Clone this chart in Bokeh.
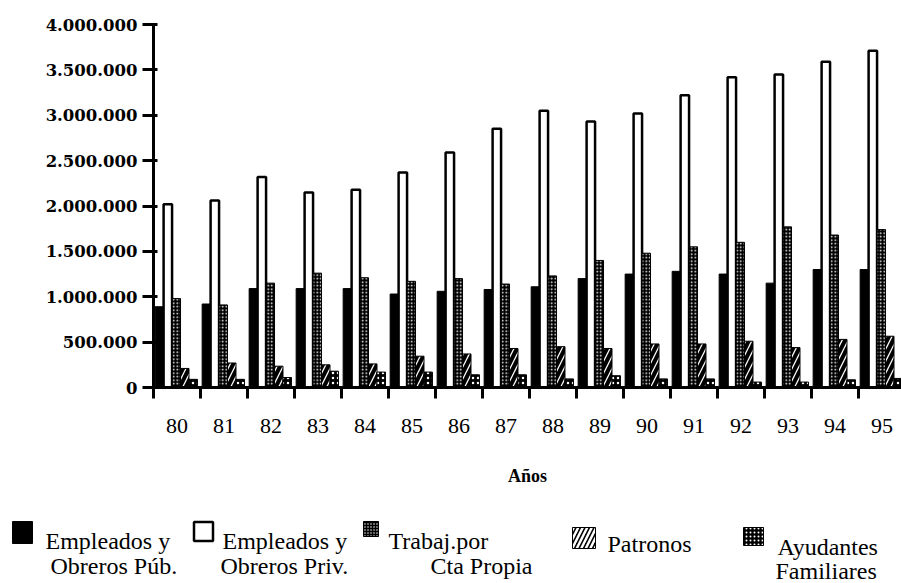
from bokeh.plotting import figure
from bokeh.models import ColumnDataSource, Range1d, FixedTicker, Label
from bokeh.layouts import column
from bokeh.transform import dodge
from bokeh.embed import file_html
from bokeh.resources import INLINE

years = ["80", "81", "82", "83", "84", "85", "86", "87", "88", "89", "90", "91", "92", "93", "94", "95"]
pub = [890000, 920000, 1090000, 1090000, 1090000, 1030000, 1060000, 1080000, 1110000, 1200000, 1250000, 1280000, 1250000, 1150000, 1300000, 1300000]
priv = [2020000, 2060000, 2320000, 2150000, 2180000, 2370000, 2590000, 2850000, 3050000, 2930000, 3020000, 3220000, 3420000, 3450000, 3590000, 3710000]
trab = [980000, 910000, 1150000, 1260000, 1210000, 1170000, 1200000, 1140000, 1230000, 1400000, 1480000, 1550000, 1600000, 1770000, 1680000, 1740000]
pat = [210000, 270000, 235000, 250000, 260000, 345000, 370000, 430000, 450000, 430000, 480000, 480000, 510000, 440000, 530000, 565000]
ayud = [90000, 90000, 110000, 180000, 170000, 170000, 140000, 140000, 95000, 130000, 95000, 95000, 60000, 60000, 85000, 100000]

y_ticks = [0, 500000, 1000000, 1500000, 2000000, 2500000, 3000000, 3500000, 4000000]
y_labels = ["0", "500.000", "1.000.000", "1.500.000", "2.000.000", "2.500.000", "3.000.000", "3.500.000", "4.000.000"]
x_title = "Años"

legend_lines = [
    ["Empleados y", "Obreros Púb."],
    ["Empleados y", "Obreros Priv."],
    ["Trabaj.por", "Cta Propia"],
    ["Patronos"],
    ["Ayudantes", "Familiares"],
]

pos = list(range(len(years)))
src = ColumnDataSource(dict(x=pos, pub=pub, priv=priv, trab=trab, pat=pat, ayud=ayud))

CAT_PX = 47.0
FRAME_LEFT = 153
W = 901
H_MAIN = 498
frame_w = W - FRAME_LEFT
x_end = frame_w / CAT_PX

p = figure(width=W, height=H_MAIN, output_backend="svg", toolbar_location=None,
           x_range=Range1d(0, x_end), y_range=Range1d(0, 4000000),
           min_border_left=FRAME_LEFT, min_border_right=0, min_border_top=24,
           min_border_bottom=H_MAIN - 24 - 363)
p.frame_align = False
p.outline_line_color = None
p.grid.visible = False
p.background_fill_color = "white"
p.border_fill_color = "white"

bw = 0.18
offs = [0.125, 0.305, 0.485, 0.665, 0.845]

p.vbar(x=dodge("x", offs[0], range=p.x_range), top="pub", width=bw, source=src,
       fill_color="black", line_color="black", line_width=1)
p.vbar(x=dodge("x", offs[1], range=p.x_range), top="priv", width=bw, source=src,
       fill_color="white", line_color="black", line_width=2.5)
p.vbar(x=dodge("x", offs[2], range=p.x_range), top="trab", width=bw, source=src,
       fill_color="black", line_color="black", line_width=1,
       hatch_pattern="dot", hatch_color="white", hatch_scale=3.5, hatch_weight=1)
p.vbar(x=dodge("x", offs[3], range=p.x_range), top="pat", width=bw, source=src,
       fill_color="black", line_color="black", line_width=1,
       hatch_pattern="right_diagonal_line", hatch_color="white", hatch_scale=12, hatch_weight=1.3)
p.vbar(x=dodge("x", offs[4], range=p.x_range), top="ayud", width=bw, source=src,
       fill_color="black", line_color="black", line_width=1,
       hatch_pattern="dot", hatch_color="white", hatch_scale=5, hatch_weight=1.8)

# y axis
ya = p.yaxis[0]
ya.ticker = FixedTicker(ticks=y_ticks, minor_ticks=[])
ya.major_label_overrides = {t: l for t, l in zip(y_ticks, y_labels)}
ya.axis_line_width = 3
ya.major_tick_line_width = 3
ya.major_tick_out = 11
ya.major_tick_in = 4
ya.major_label_standoff = 5
ya.major_label_text_font = "DejaVu Serif"
ya.major_label_text_font_style = "bold"
ya.major_label_text_font_size = "16.5px"
ya.major_label_text_color = "black"

# x axis
xa = p.xaxis[0]
xa.ticker = FixedTicker(ticks=[i + 0.5 for i in pos], minor_ticks=list(range(len(years) + 1)))
xa.major_label_overrides = {i + 0.5: y for i, y in zip(pos, years)}
xa.axis_line_width = 3
xa.major_tick_out = 0
xa.major_tick_in = 0
xa.minor_tick_line_width = 3
xa.minor_tick_out = 11
xa.minor_tick_in = 0
xa.minor_tick_line_color = "black"
xa.major_label_standoff = 20
xa.major_label_text_font = "Liberation Serif"
xa.major_label_text_font_size = "22px"
xa.major_label_text_color = "black"
xa.axis_label = x_title
xa.axis_label_standoff = 30
xa.axis_label_text_font = "Liberation Serif"
xa.axis_label_text_font_style = "bold"
xa.axis_label_text_font_size = "18px"
xa.axis_label_text_color = "black"

# legend figure (page coordinates)
LH = 583 - H_MAIN
lg = figure(width=W, height=LH, output_backend="svg", toolbar_location=None,
            x_range=Range1d(0, W), y_range=Range1d(H_MAIN + LH, H_MAIN),
            min_border=0)
lg.frame_align = False
lg.axis.visible = False
lg.grid.visible = False
lg.outline_line_color = None

sw_x = [22, 203, 370.5, 583.5, 753]
sw_y = [532, 531, 528.5, 537.5, 536]
sw_w = [20, 19, 15, 23, 20]
sw_h = [22, 19, 15, 21, 18]
lg.rect(x=[sw_x[0]], y=[sw_y[0]], width=[sw_w[0]], height=[sw_h[0]], fill_color="black", line_color="black")
lg.rect(x=[sw_x[1]], y=[sw_y[1]], width=[sw_w[1]], height=[sw_h[1]], fill_color="white", line_color="black", line_width=2.5)
lg.rect(x=[sw_x[2]], y=[sw_y[2]], width=[sw_w[2]], height=[sw_h[2]], fill_color="black", line_color="black",
        hatch_pattern="dot", hatch_color="white", hatch_scale=3, hatch_weight=1)
lg.rect(x=[sw_x[3]], y=[sw_y[3]], width=[sw_w[3]], height=[sw_h[3]], fill_color="black", line_color="black",
        hatch_pattern="right_diagonal_line", hatch_color="white", hatch_scale=9, hatch_weight=2.5)
lg.rect(x=[sw_x[4]], y=[sw_y[4]], width=[sw_w[4]], height=[sw_h[4]], fill_color="black", line_color="black",
        hatch_pattern="dot", hatch_color="white", hatch_scale=4, hatch_weight=1.6)

tx = [[45, 50], [222, 220], [388, 430], [607], [777, 775]]
ty = [[540, 565], [540, 565], [540, 565], [543], [546, 570]]
for lines, xx, yy in zip(legend_lines, tx, ty):
    for t, a, b in zip(lines, xx, yy):
        lg.add_layout(Label(x=a, y=b, text=t, text_font="Liberation Serif", text_font_size="24px",
                            text_align="left", text_baseline="middle", text_color="black"))

layout = column(p, lg, spacing=0)
open("out.html", "w").write(file_html(layout, INLINE))
